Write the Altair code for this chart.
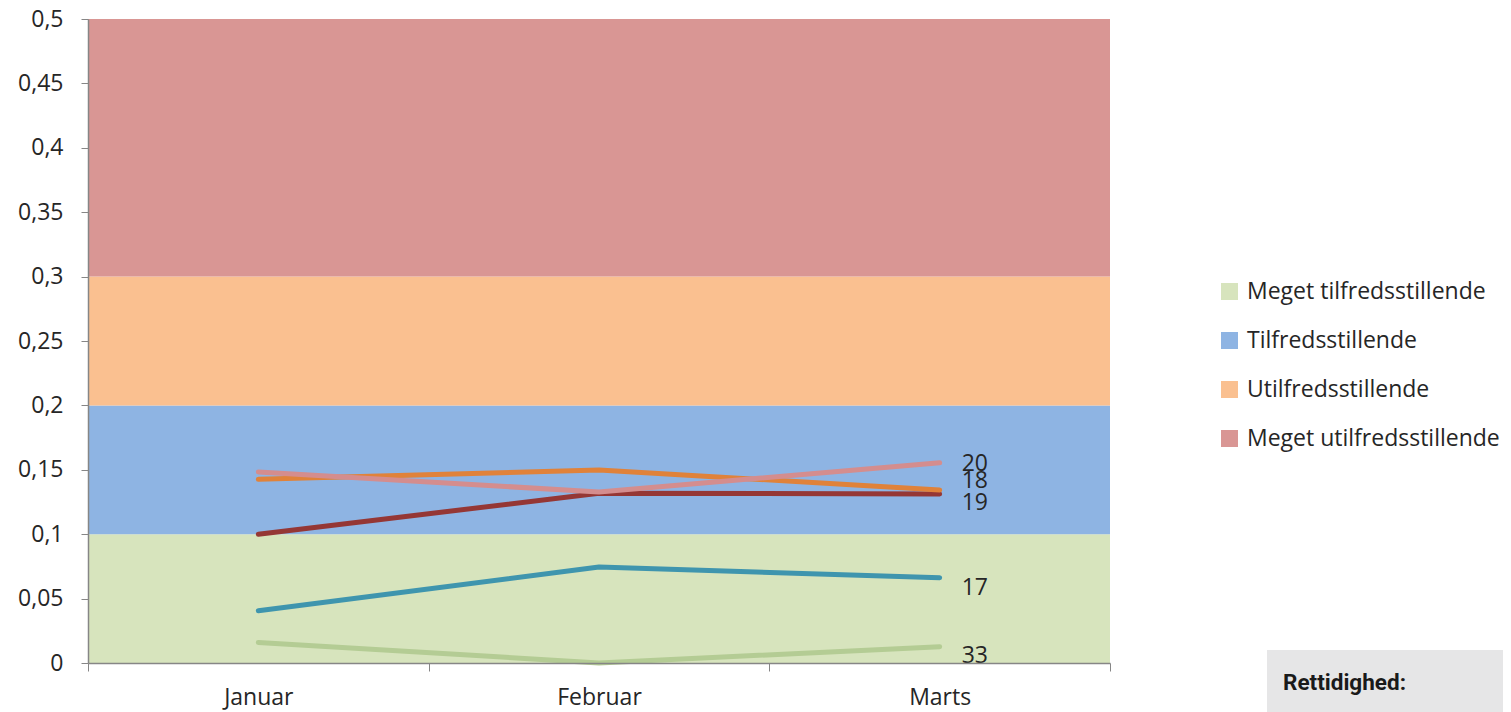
import altair as alt
import pandas as pd

FONT = "Open Sans"
FS = 23
TEXT_COLOR = "#262626"
AXIS_COLOR = "#868686"

# categories
months = ["Januar", "Februar", "Marts"]

# background bands
band_names = ["Meget tilfredsstillende", "Tilfredsstillende", "Utilfredsstillende", "Meget utilfredsstillende"]
band_lo = [0.0, 0.1, 0.2, 0.3]
band_hi = [0.1, 0.2, 0.3, 0.5]
band_colors = ["#D7E4BD", "#8EB4E3", "#FAC090", "#D99694"]

# line series (drawn bottom to top)
series_ids = ["S33", "S17", "S19", "S18", "S20"]
series_colors = ["#B4CC94", "#3F95AE", "#953735", "#E0823A", "#D48D8E"]
green_vals = [0.016, 0.0, 0.0127]
teal_vals = [0.0406, 0.0745, 0.0662]
darkred_vals = [0.1, 0.1318, 0.1312]
orange_vals = [0.1426, 0.1498, 0.1343]
pink_vals = [0.1483, 0.1328, 0.1555]
series_vals = [green_vals, teal_vals, darkred_vals, orange_vals, pink_vals]

# end labels
end_labels = ["33", "17", "19", "18", "20"]
end_label_y = [0.0054, 0.0582, 0.1243, 0.1411, 0.1545]

y_ticks = [0, 0.05, 0.1, 0.15, 0.2, 0.25, 0.3, 0.35, 0.4, 0.45, 0.5]
x_ticks = [0, 0.5, 1, 1.5, 2, 2.5, 3]

box_title = "Rettidighed:"

# ---- tables ----
bands_df = pd.DataFrame({"band": band_names, "lo": band_lo, "hi": band_hi,
                         "x0": [0] * len(band_names), "x1": [len(months)] * len(band_names)})

rows = []
for sid, vals in zip(series_ids, series_vals):
    for i, (m, v) in enumerate(zip(months, vals)):
        rows.append({"series": sid, "month": m, "pos": i + 0.5, "value": v})
lines_df = pd.DataFrame(rows)

labels_df = pd.DataFrame({"label": end_labels, "ly": end_label_y,
                          "pos": [len(months) - 0.5] * len(end_labels)})

label_expr = " : ".join(
    f"datum.value == {i + 0.5} ? '{m}'" for i, m in enumerate(months)
) + " : ''"

x_scale = alt.Scale(domain=[0, len(months)], nice=False, zero=False)
y_scale = alt.Scale(domain=[0, 0.5], nice=False)

x_axis = alt.Axis(
    values=x_ticks, labelExpr=label_expr, grid=False, title=None,
    tickOpacity={"condition": {"test": "datum.value % 1 == 0", "value": 1}, "value": 0},
    domainColor=AXIS_COLOR, tickColor=AXIS_COLOR, tickSize=8, domainWidth=1.5,
    labelFontSize=FS, labelFont=FONT, labelColor=TEXT_COLOR, labelPadding=15,
    labelOverlap=False, labelFlush=False, zindex=1,
)
y_axis = alt.Axis(
    values=y_ticks, labelExpr="replace(format(datum.value, '.2~f'), '.', ',')",
    grid=False, title=None, domainColor=AXIS_COLOR, tickColor=AXIS_COLOR, tickSize=7,
    domainWidth=1.5, labelFontSize=FS, labelFont=FONT, labelColor=TEXT_COLOR,
    labelPadding=18, labelOverlap=False, labelFlush=False, zindex=1,
)

bands = alt.Chart(bands_df).mark_rect().encode(
    x=alt.X("x0:Q", scale=x_scale, axis=x_axis),
    x2="x1:Q",
    y=alt.Y("lo:Q", scale=y_scale, axis=y_axis),
    y2="hi:Q",
    fill=alt.Fill("band:N", scale=alt.Scale(domain=band_names, range=band_colors),
                  legend=alt.Legend(orient="none", legendX=1130, legendY=261, title=None,
                                    symbolType="square", symbolSize=289, symbolStrokeWidth=0,
                                    labelFontSize=FS, labelFont=FONT, labelColor=TEXT_COLOR,
                                    rowPadding=25, labelOffset=6, padding=0, labelLimit=400)),
)

line_layers = []
for sid in series_ids:
    line_layers.append(
        alt.Chart(lines_df).transform_filter(alt.datum.series == sid)
        .mark_line(strokeWidth=5, strokeCap="round", strokeJoin="round", clip=False)
        .encode(
            x=alt.X("pos:Q", scale=x_scale, axis=x_axis),
            y=alt.Y("value:Q", scale=y_scale, axis=y_axis),
            stroke=alt.Stroke("series:N", scale=alt.Scale(domain=series_ids, range=series_colors),
                              legend=None),
        )
    )

texts = alt.Chart(labels_df).mark_text(
    align="left", baseline="middle", dx=22, fontSize=FS, font=FONT, color=TEXT_COLOR
).encode(
    x=alt.X("pos:Q", scale=x_scale, axis=x_axis),
    y=alt.Y("ly:Q", scale=y_scale, axis=y_axis),
    text="label:N",
)

box_df = pd.DataFrame({"t": [box_title]})
box = alt.Chart(box_df).mark_rect(color="#E6E6E7", clip=False).encode(
    x=alt.value(1179), x2=alt.value(1450), y=alt.value(631), y2=alt.value(720)
)
box_text = alt.Chart(box_df).mark_text(
    align="left", baseline="alphabetic", fontSize=22.5, fontWeight="bold", font="Roboto",
    color="#1a1a1a", clip=False
).encode(x=alt.value(1195), y=alt.value(671), text="t:N")

chart = alt.layer(bands, *line_layers, texts, box, box_text).properties(
    width=1022, height=644,
    autosize=alt.AutoSizeParams(type="none"),
    padding={"left": 80, "top": 11, "right": 393, "bottom": 49},
    background="white",
).configure_view(stroke=None)

chart.save("out.html", embed_options={"renderer": "svg", "actions": False})
